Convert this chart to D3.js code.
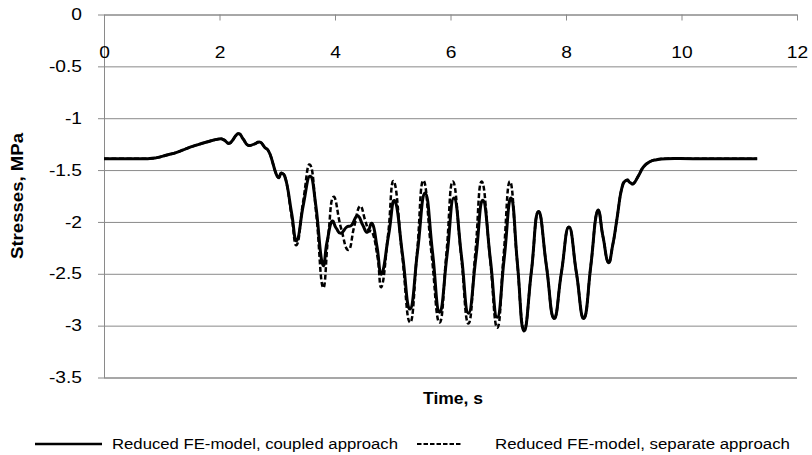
<!DOCTYPE html>
<html>
<head>
<meta charset="utf-8">
<script src="https://cdn.jsdelivr.net/npm/d3@7"></script>
<style>
  body { margin: 0; background: #fff; }
  svg { font-family: "Liberation Sans", Arial, sans-serif; }
</style>
</head>
<body>
<svg id="chart" width="812" height="455"></svg>
<script>
// tick values
const xTicks = [0, 2, 4, 6, 8, 10, 12]
const yTicks = [0, -0.5, -1, -1.5, -2, -2.5, -3, -3.5]
const seriesNames = ["Reduced FE-model, coupled approach", "Reduced FE-model, separate approach"]

// coupled approach (solid)
const timeCoupled = [0, 0.4, 0.745, 0.92, 1.09, 1.26, 1.44, 1.6, 1.78, 1.99, 2.08, 2.18, 2.32, 2.41, 2.49, 2.6, 2.70, 2.78, 2.87, 3.0, 3.08, 3.16,
  3.25, 3.34, 3.45, 3.57, 3.67, 3.78, 3.86, 3.94, 4.02, 4.10, 4.20, 4.29, 4.39, 4.48, 4.56, 4.65, 4.73, 4.81,
  4.93, 5.04, 5.17, 5.30, 5.43, 5.56, 5.69, 5.81, 5.94, 6.06, 6.19, 6.31, 6.44, 6.56, 6.69, 6.81, 6.93, 7.05, 7.16, 7.27,
  7.40, 7.52, 7.66, 7.79, 7.92, 8.05, 8.18, 8.31, 8.43, 8.54, 8.64, 8.73, 8.81, 8.88, 8.96, 9.04, 9.11, 9.17, 9.25, 9.34,
  9.45, 9.57, 9.74, 10.2, 10.8, 11.31]
const stressCoupled = [-1.39, -1.39, -1.39, -1.38, -1.355, -1.33, -1.29, -1.26, -1.23, -1.20, -1.21, -1.24, -1.15, -1.20, -1.26, -1.25, -1.23, -1.28, -1.34, -1.56, -1.53, -1.62,
  -1.92, -2.18, -1.84, -1.56, -1.85, -2.40, -2.20, -2.00, -2.06, -2.11, -2.05, -2.03, -1.94, -2.03, -2.10, -2.02, -2.25, -2.50,
  -2.12, -1.80, -2.32, -2.84, -2.28, -1.72, -2.30, -2.87, -2.32, -1.77, -2.33, -2.88, -2.34, -1.79, -2.36, -2.92, -2.35, -1.77, -2.41, -3.05,
  -2.48, -1.90, -2.42, -2.93, -2.49, -2.05, -2.49, -2.93, -2.42, -1.90, -2.14, -2.39, -2.22, -1.98, -1.69, -1.60, -1.62, -1.63, -1.56, -1.47,
  -1.42, -1.40, -1.39, -1.39, -1.39, -1.39]

// separate approach (dashed)
const timeSeparate = [0, 0.4, 0.745, 0.92, 1.09, 1.26, 1.44, 1.6, 1.78, 1.99, 2.08, 2.18, 2.32, 2.41, 2.49, 2.6, 2.70, 2.78, 2.87, 3.0, 3.08, 3.16,
  3.25, 3.34, 3.45, 3.57, 3.68, 3.79, 3.88, 3.97, 4.10, 4.23, 4.33, 4.43, 4.52, 4.58, 4.66, 4.74, 4.81,
  4.92, 5.02, 5.16, 5.30, 5.42, 5.53, 5.67, 5.81, 5.93, 6.04, 6.18, 6.31, 6.43, 6.54, 6.68, 6.81, 6.92, 7.03, 7.15, 7.27,
  7.40, 7.52, 7.66, 7.79, 7.92, 8.05, 8.18, 8.31, 8.43, 8.54, 8.64, 8.73, 8.81, 8.88, 8.96, 9.04, 9.11, 9.17, 9.25, 9.34,
  9.45, 9.57, 9.74, 10.2, 10.8, 11.31]
const stressSeparate = [-1.39, -1.39, -1.39, -1.38, -1.355, -1.33, -1.29, -1.26, -1.23, -1.20, -1.21, -1.24, -1.15, -1.20, -1.26, -1.25, -1.23, -1.28, -1.34, -1.56, -1.53, -1.62,
  -1.95, -2.22, -1.80, -1.45, -1.95, -2.63, -2.15, -1.76, -2.05, -2.27, -2.05, -1.85, -1.98, -2.08, -2.12, -2.35, -2.62,
  -2.12, -1.61, -2.30, -2.97, -2.30, -1.60, -2.30, -2.97, -2.30, -1.61, -2.30, -2.98, -2.30, -1.61, -2.32, -3.02, -2.32, -1.61, -2.35, -3.03,
  -2.48, -1.90, -2.42, -2.93, -2.49, -2.05, -2.49, -2.93, -2.42, -1.90, -2.14, -2.39, -2.22, -1.98, -1.69, -1.60, -1.62, -1.63, -1.56, -1.47,
  -1.42, -1.40, -1.39, -1.39, -1.39, -1.39]

const margin = { top: 14.5, right: 15, bottom: 77.5, left: 104 }
const width = 812 - margin.left - margin.right
const height = 455 - margin.top - margin.bottom
const gridColor = "#8a8a8a"

const svg = d3.select("#chart")
const g = svg.append("g").attr("transform", "translate(" + margin.left + "," + margin.top + ")")

const x = d3.scaleLinear().domain([0, 12]).range([0, width])
const y = d3.scaleLinear().domain([-3.5, 0]).range([height, 0])

// horizontal gridlines
g.append("g")
  .call(d3.axisLeft(y).tickValues(yTicks).tickSize(-width).tickFormat(""))
  .call(s => s.select(".domain").remove())
  .selectAll("line")
    .attr("stroke", gridColor)
    .attr("stroke-width", d => d === -3.5 ? 1.6 : 1)

// y axis with ticks on the left (plain hyphen for the minus sign)
const yAxis = g.append("g")
  .call(d3.axisLeft(y).tickValues(yTicks).tickSize(6).tickSizeOuter(0).tickFormat(d => String(d)))
yAxis.select(".domain").attr("stroke", gridColor)
yAxis.selectAll("line").attr("stroke", gridColor)
yAxis.selectAll("text")
  .attr("fill", "#000")
  .attr("font-size", 16)
  .attr("x", -22 / 1.2)
  .attr("transform", "scale(1.2,1)")

// x axis lies on y = 0 at the top
const xAxis = g.append("g")
  .attr("transform", "translate(0," + y(0) + ")")
  .call(d3.axisBottom(x).tickValues(xTicks).tickSize(6).tickSizeOuter(0).tickPadding(26.5))
xAxis.select(".domain").attr("stroke", gridColor)
xAxis.selectAll("line").attr("stroke", gridColor)
xAxis.selectAll("text")
  .attr("fill", "#000")
  .attr("font-size", 16)
  .attr("transform", "scale(1.2,1)")

// smoothed like the spreadsheet line; negative tension keeps the crests round
const line = d3.line()
  .x(d => x(d[0]))
  .y(d => y(d[1]))
  .curve(d3.curveCardinal.tension(-0.45))

g.append("path")
  .datum(d3.zip(timeCoupled, stressCoupled))
  .attr("fill", "none")
  .attr("stroke", "#000")
  .attr("stroke-width", 3)
  .attr("stroke-linejoin", "round")
  .attr("d", line)

g.append("path")
  .datum(d3.zip(timeSeparate, stressSeparate))
  .attr("fill", "none")
  .attr("stroke", "#000")
  .attr("stroke-width", 2.5)
  .attr("stroke-dasharray", "5,2.5")
  .attr("d", line)

// axis titles
svg.append("text")
  .attr("x", 453).attr("y", 403.5)
  .attr("text-anchor", "middle")
  .attr("font-weight", "bold")
  .attr("font-size", 16)
  .attr("textLength", 60)
  .attr("lengthAdjust", "spacingAndGlyphs")
  .text("Time, s")

svg.append("text")
  .attr("transform", "translate(23," + (margin.top + height / 2) + ") rotate(-90)")
  .attr("text-anchor", "middle")
  .attr("font-weight", "bold")
  .attr("font-size", 16)
  .attr("textLength", 126)
  .attr("lengthAdjust", "spacingAndGlyphs")
  .text("Stresses, MPa")

// legend
const legendItems = [
  { name: seriesNames[0], x1: 35, x2: 102, tx: 112, len: 286, dash: null, w: 2.5 },
  { name: seriesNames[1], x1: 417, x2: 462, tx: 495, len: 295, dash: "4.5,2", w: 2 }
]
const legend = svg.append("g")
legendItems.forEach(item => {
  legend.append("line")
    .attr("x1", item.x1).attr("x2", item.x2)
    .attr("y1", 444).attr("y2", 444)
    .attr("stroke", "#000")
    .attr("stroke-width", item.w)
    .attr("stroke-dasharray", item.dash)
  legend.append("text")
    .attr("x", item.tx).attr("y", 449)
    .attr("font-size", 14)
    .attr("textLength", item.len)
    .attr("lengthAdjust", "spacingAndGlyphs")
    .text(item.name)
})
</script>
</body>
</html>
